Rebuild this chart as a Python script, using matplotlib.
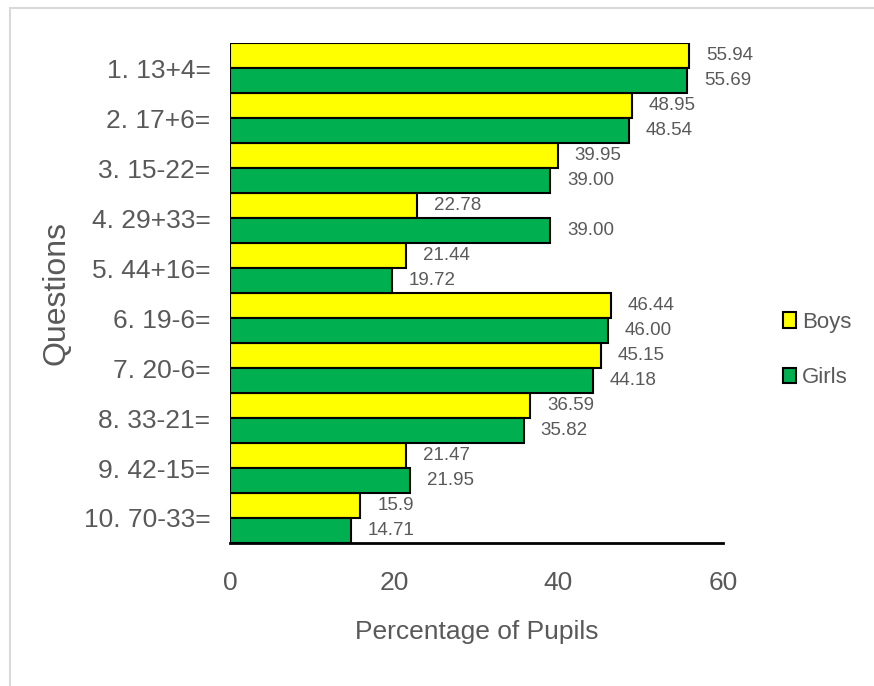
import matplotlib
matplotlib.use("Agg")
import matplotlib.pyplot as plt
import numpy as np
from matplotlib.patches import Rectangle

questions = ["1. 13+4=", "2. 17+6=", "3. 15-22=", "4. 29+33=", "5. 44+16=",
             "6. 19-6=", "7. 20-6=", "8. 33-21=", "9. 42-15=", "10. 70-33="]
boys = [55.94, 48.95, 39.95, 22.78, 21.44, 46.44, 45.15, 36.59, 21.47, 15.9]
girls = [55.69, 48.54, 39.00, 39.00, 19.72, 46.00, 44.18, 35.82, 21.95, 14.71]
boys_labels = ["55.94", "48.95", "39.95", "22.78", "21.44", "46.44", "45.15", "36.59", "21.47", "15.9"]
girls_labels = ["55.69", "48.54", "39.00", "39.00", "19.72", "46.00", "44.18", "35.82", "21.95", "14.71"]
xticks = [0, 20, 40, 60]

plt.rcParams['font.family'] = ['Liberation Sans', 'DejaVu Sans']

gray = "#595959"
fig = plt.figure(figsize=(8.74, 6.86), dpi=100)
fig.patches.append(Rectangle((0.011, -0.01), 1.0, 0.998, transform=fig.transFigure,
                             fill=False, edgecolor="#d9d9d9", linewidth=1.5))
ax = fig.add_axes([0.263, 0.2085, 0.564, 0.7285])

y = np.arange(len(questions))
h = 0.5
bb = ax.barh(y - h/2, boys, height=h, color="#ffff00", edgecolor="black", linewidth=1.5, label="Boys")
gb = ax.barh(y + h/2, girls, height=h, color="#00b050", edgecolor="black", linewidth=1.5, label="Girls")

for yi, v, t in zip(y, boys, boys_labels):
    ax.annotate(t, (v, yi - h/2), xytext=(12, 0), textcoords="offset points",
                va="center", ha="left", fontsize=13.5, color=gray)
for yi, v, t in zip(y, girls, girls_labels):
    ax.annotate(t, (v, yi + h/2), xytext=(12, 0), textcoords="offset points",
                va="center", ha="left", fontsize=13.5, color=gray)

ax.set_ylim(len(questions) - 0.5, -0.5)
ax.set_xlim(0, 60)
ax.set_yticks(y)
ax.set_yticklabels(questions)
ax.set_xticks(xticks)
ax.tick_params(axis='both', length=0, labelsize=19, colors=gray)
ax.tick_params(axis='y', pad=14)
ax.tick_params(axis='x', pad=20)
for s in ["top", "right", "left"]:
    ax.spines[s].set_visible(False)
ax.spines["bottom"].set_linewidth(2)
ax.spines["bottom"].set_color("black")

ax.set_xlabel("Percentage of Pupils", fontsize=19, color=gray)
ax.xaxis.set_label_coords(0.5, -0.155)
ax.set_ylabel("Questions", fontsize=23, color=gray)
ax.yaxis.set_label_coords(-0.322, 0.5)

leg = fig.legend(handles=[bb, gb], labels=["Boys", "Girls"], loc="center left",
                 bbox_to_anchor=(0.883, 0.49), frameon=False, fontsize=16,
                 labelcolor=gray, handlelength=0.6, handleheight=0.7,
                 handletextpad=0.25, labelspacing=1.55, borderpad=0)

fig.savefig("out.png", dpi=100)
